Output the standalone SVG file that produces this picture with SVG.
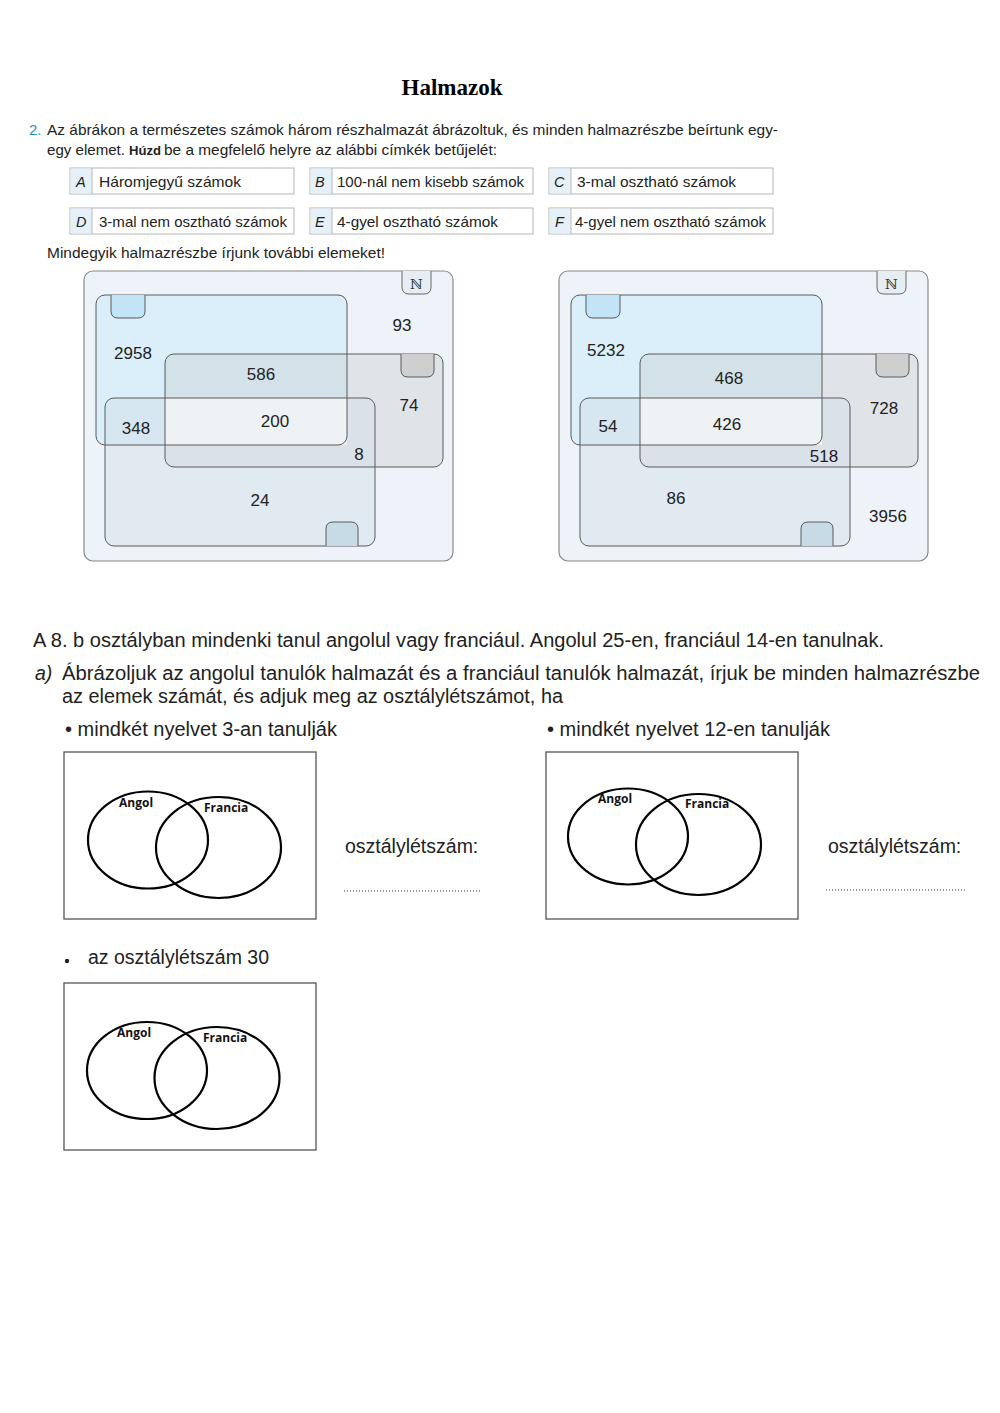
<svg xmlns="http://www.w3.org/2000/svg" width="1000" height="1413" viewBox="0 0 1000 1413">
<style>
.t{font-family:"Liberation Sans",Arial,sans-serif;fill:#222}
.q{font-size:15px}
.lab{font-size:14.5px;fill:#222;font-family:"Liberation Sans",Arial,sans-serif}
.let{font-size:14.5px;font-style:italic;fill:#222;font-family:"Liberation Sans",Arial,sans-serif}
.box{fill:#fff;stroke:#b5b5b5;stroke-width:1}
.cell{fill:#e6f0f8}
.num{font-family:"Liberation Sans",Arial,sans-serif;font-size:17px;fill:#222;text-anchor:middle}
.outer{fill:#edf3f8;stroke:#8a8a8a;stroke-width:1.2}
.rs{fill:none;stroke:#5a5a5a;stroke-width:1}
.big{font-family:"Liberation Sans",Arial,sans-serif;font-size:19.5px;fill:#222}
.frame{fill:#fff;stroke:#555;stroke-width:1.3}
.ell{fill:none;stroke:#000;stroke-width:2.2}
.el{font-family:"Open Sans","Liberation Sans",sans-serif;font-weight:bold;font-size:12px;fill:#111}
.dots{stroke:#333;stroke-width:1;stroke-dasharray:1 2}
</style>
<rect width="1000" height="1413" fill="#fff"/>
<text x="452" y="95" text-anchor="middle" style="font-family:'Liberation Serif','Times New Roman',serif;font-weight:bold;font-size:23px;fill:#000">Halmazok</text>

<g id="task2-text">
<text x="29" y="135" class="t q" style="fill:#2a8fc4">2.</text>
<text x="47" y="135" class="t q" textLength="731" lengthAdjust="spacingAndGlyphs">Az ábrákon a természetes számok három részhalmazát ábrázoltuk, és minden halmazrészbe beírtunk egy-</text>
<text x="47" y="155" class="t q" textLength="78" lengthAdjust="spacingAndGlyphs">egy elemet.</text>
<text x="129" y="155" class="t" style="font-size:13px;font-weight:bold" textLength="32" lengthAdjust="spacingAndGlyphs">Húzd</text>
<text x="164" y="155" class="t q" textLength="333" lengthAdjust="spacingAndGlyphs">be a megfelelő helyre az alábbi címkék betűjelét:</text>
<text x="47" y="258" class="t q" textLength="338" lengthAdjust="spacingAndGlyphs">Mindegyik halmazrészbe írjunk további elemeket!</text>
</g>

<g id="label-A"><rect class="box" x="70" y="168" width="224" height="26"/><rect class="cell" x="70.5" y="168.5" width="21" height="25"/><line x1="92" y1="168" x2="92" y2="194" stroke="#b5b5b5"/><text class="let" x="76" y="187">A</text><text class="lab" x="99" y="187" textLength="142" lengthAdjust="spacingAndGlyphs">Háromjegyű számok</text></g>
<g id="label-B"><rect class="box" x="310" y="168" width="223" height="26"/><rect class="cell" x="310.5" y="168.5" width="21" height="25"/><line x1="332" y1="168" x2="332" y2="194" stroke="#b5b5b5"/><text class="let" x="315" y="187">B</text><text class="lab" x="337" y="187" textLength="187" lengthAdjust="spacingAndGlyphs">100-nál nem kisebb számok</text></g>
<g id="label-C"><rect class="box" x="549" y="168" width="224" height="26"/><rect class="cell" x="549.5" y="168.5" width="21" height="25"/><line x1="571" y1="168" x2="571" y2="194" stroke="#b5b5b5"/><text class="let" x="554" y="187">C</text><text class="lab" x="577" y="187" textLength="159" lengthAdjust="spacingAndGlyphs">3-mal osztható számok</text></g>
<g id="label-D"><rect class="box" x="70" y="208" width="224" height="26"/><rect class="cell" x="70.5" y="208.5" width="21" height="25"/><line x1="92" y1="208" x2="92" y2="234" stroke="#b5b5b5"/><text class="let" x="76" y="227">D</text><text class="lab" x="99" y="227" textLength="188" lengthAdjust="spacingAndGlyphs">3-mal nem osztható számok</text></g>
<g id="label-E"><rect class="box" x="310" y="208" width="223" height="26"/><rect class="cell" x="310.5" y="208.5" width="21" height="25"/><line x1="332" y1="208" x2="332" y2="234" stroke="#b5b5b5"/><text class="let" x="315" y="227">E</text><text class="lab" x="337" y="227" textLength="161" lengthAdjust="spacingAndGlyphs">4-gyel osztható számok</text></g>
<g id="label-F"><rect class="box" x="549" y="208" width="224" height="26"/><rect class="cell" x="549.5" y="208.5" width="21" height="25"/><line x1="571" y1="208" x2="571" y2="234" stroke="#b5b5b5"/><text class="let" x="555" y="227">F</text><text class="lab" x="575" y="227" textLength="191" lengthAdjust="spacingAndGlyphs">4-gyel nem osztható számok</text></g>

<defs>
<g id="venn">
<rect class="outer" x="84" y="271" width="369" height="290" rx="9"/>
<path d="M402,271 V287 Q402,294 409,294 H424 Q431,294 431,287 V271" fill="#e6edf3" stroke="#6a6a6a"/>
<text x="416.5" y="289" text-anchor="middle" style="font-family:'DejaVu Serif',serif;font-size:14px;fill:#333">ℕ</text>
<rect x="96" y="295" width="251" height="150" rx="9" fill="#daeff9"/>
<rect x="165" y="354" width="278" height="113" rx="9" fill="#c4c4c4" fill-opacity="0.3"/>
<rect x="105" y="398" width="270" height="148" rx="9" fill="#d2dde8" fill-opacity="0.45"/>
<rect x="165" y="398" width="182" height="47" fill="#eef2f5"/>
<rect class="rs" x="96" y="295" width="251" height="150" rx="9"/>
<rect class="rs" x="165" y="354" width="278" height="113" rx="9"/>
<rect class="rs" x="105" y="398" width="270" height="148" rx="9"/>
<path d="M111,295 V311 Q111,318 118,318 H138 Q145,318 145,311 V295" fill="#c3e4f6" stroke="#5a5a5a"/>
<path d="M401,354 V370 Q401,377 408,377 H427 Q434,377 434,370 V354" fill="#cfcfcf" stroke="#5a5a5a"/>
<path d="M326,546 V529 Q326,522 333,522 H351 Q358,522 358,529 V546" fill="#c7dbe6" stroke="#5a5a5a"/>
</g>
</defs>

<g id="venn-1">
<use href="#venn"/>
<text class="num" x="402" y="331">93</text>
<text class="num" x="133" y="359">2958</text>
<text class="num" x="261" y="380">586</text>
<text class="num" x="409" y="411">74</text>
<text class="num" x="136" y="434">348</text>
<text class="num" x="275" y="427">200</text>
<text class="num" x="359" y="460">8</text>
<text class="num" x="260" y="506">24</text>
</g>

<g id="venn-2">
<use href="#venn" transform="translate(475,0)"/>
<text class="num" x="606" y="356">5232</text>
<text class="num" x="729" y="384">468</text>
<text class="num" x="884" y="414">728</text>
<text class="num" x="608" y="432">54</text>
<text class="num" x="727" y="430">426</text>
<text class="num" x="824" y="462">518</text>
<text class="num" x="676" y="504">86</text>
<text class="num" x="888" y="522">3956</text>
</g>

<g id="task3-text">
<text x="33" y="647" class="big" textLength="851" lengthAdjust="spacingAndGlyphs">A 8. b osztályban mindenki tanul angolul vagy franciául. Angolul 25-en, franciául 14-en tanulnak.</text>
<text x="35" y="680" class="big" style="font-style:italic">a)</text>
<text x="62" y="680" class="big" textLength="918" lengthAdjust="spacingAndGlyphs">Ábrázoljuk az angolul tanulók halmazát és a franciául tanulók halmazát, írjuk be minden halmazrészbe</text>
<text x="62" y="703" class="big" textLength="501" lengthAdjust="spacingAndGlyphs">az elemek számát, és adjuk meg az osztálylétszámot, ha</text>
<text x="65" y="736" class="big" textLength="272" lengthAdjust="spacingAndGlyphs">• mindkét nyelvet 3-an tanulják</text>
<text x="547" y="736" class="big" textLength="283" lengthAdjust="spacingAndGlyphs">• mindkét nyelvet 12-en tanulják</text>
<circle cx="67" cy="961" r="2.2" fill="#222"/>
<text x="88" y="964" class="big">az osztálylétszám 30</text>
</g>

<g id="venn-a">
<rect class="frame" x="64" y="752" width="252" height="167"/>
<ellipse class="ell" cx="148" cy="840" rx="60" ry="48.5"/>
<ellipse class="ell" cx="218.5" cy="847.5" rx="62.5" ry="50.5"/>
<text class="el" x="119" y="807">Angol</text>
<text class="el" x="204" y="812">Francia</text>
</g>
<g id="answer-a">
<text x="345" y="853" class="big">osztálylétszám:</text>
<line class="dots" x1="344" y1="891" x2="482" y2="891"/>
</g>

<g id="venn-b">
<rect class="frame" x="546" y="752" width="252" height="167"/>
<ellipse class="ell" cx="628" cy="836.5" rx="60" ry="48"/>
<ellipse class="ell" cx="698.5" cy="844.5" rx="62.5" ry="50.5"/>
<text class="el" x="598" y="803">Angol</text>
<text class="el" x="685" y="808">Francia</text>
</g>
<g id="answer-b">
<text x="828" y="853" class="big">osztálylétszám:</text>
<line class="dots" x1="826" y1="890" x2="965" y2="890"/>
</g>

<g id="venn-c">
<rect class="frame" x="64" y="983" width="252" height="167"/>
<ellipse class="ell" cx="147" cy="1070.5" rx="60" ry="48.5"/>
<ellipse class="ell" cx="217" cy="1078" rx="62.5" ry="51"/>
<text class="el" x="117" y="1037">Angol</text>
<text class="el" x="203" y="1042">Francia</text>
</g>
<g id="connectors"></g>
</svg>
